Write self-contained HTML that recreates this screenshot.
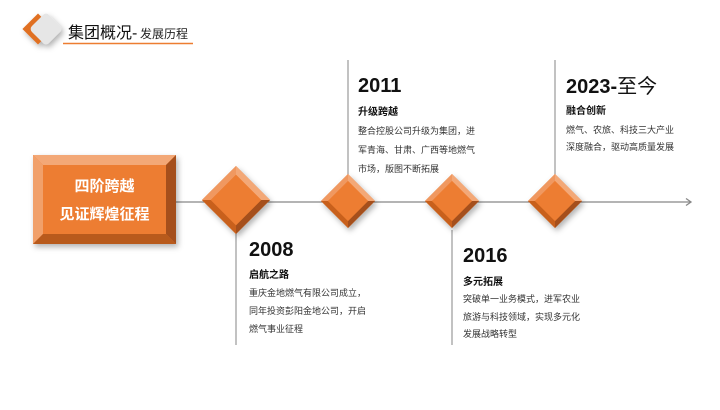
<!DOCTYPE html>
<html><head><meta charset="utf-8"><style>
body{margin:0;width:720px;height:405px;overflow:hidden;background:#fff;font-family:"Liberation Sans","Noto Sans CJK SC",sans-serif}
svg text{font-family:"Liberation Sans","Noto Sans CJK SC",sans-serif}
</style></head><body>
<svg width="720" height="405" viewBox="0 0 720 405">
<defs>
<filter id="sh" x="-50%" y="-50%" width="200%" height="200%"><feDropShadow dx="2" dy="3" stdDeviation="3" flood-color="#000" flood-opacity="0.3"/></filter>
<g id="dia">
<polygon points="0,-27 27,0 0,27 -27,0" fill="#ed7d31"/>
<polygon points="0,-27 27,0 20,0 0,-20" fill="#f3a877"/>
<polygon points="0,-27 0,-20 -20,0 -27,0" fill="#f09860"/>
<polygon points="27,0 0,27 0,20 20,0" fill="#a5501a"/>
<polygon points="-27,0 -20,0 0,20 0,27" fill="#c8611f"/>
<polygon points="0,-20 20,0 0,20 -20,0" fill="#ed7d31"/>
</g>
</defs>
<!-- header -->
<g filter="url(#sh)">
<rect x="27" y="18" width="22" height="22" transform="rotate(45 38 29)" fill="#e07020"/>
<rect x="34" y="17" width="24" height="24" rx="4" transform="rotate(45 46 29)" fill="#e6e6e6"/>
</g>
<text x="68" y="38" font-size="16" fill="#111">集团概况-</text>
<text x="140" y="38" font-size="12" fill="#222">发展历程</text>
<line x1="63" y1="43.5" x2="193" y2="43.5" stroke="#ed7d31" stroke-width="1.5"/>
<!-- timeline -->
<line x1="176" y1="202" x2="691" y2="202" stroke="#888" stroke-width="1.3"/>
<polyline points="686,198.5 691,202 686,205.5" fill="none" stroke="#888" stroke-width="1.3"/>
<line x1="236" y1="230" x2="236" y2="345" stroke="#999" stroke-width="1.2"/>
<line x1="348" y1="60" x2="348" y2="175" stroke="#999" stroke-width="1.2"/>
<line x1="452" y1="230" x2="452" y2="345" stroke="#999" stroke-width="1.2"/>
<line x1="555" y1="60" x2="555" y2="175" stroke="#999" stroke-width="1.2"/>
<!-- box -->
<g filter="url(#sh)">
<rect x="33" y="155" width="143" height="89" fill="#ed7d31"/>
<polygon points="33,155 176,155 166,165 43,165" fill="#f3a877"/>
<polygon points="33,155 43,165 43,234 33,244" fill="#f1a06a"/>
<polygon points="176,155 176,244 166,234 166,165" fill="#a5501a"/>
<polygon points="33,244 43,234 166,234 176,244" fill="#b85a1c"/>
</g>
<text x="104.5" y="191" font-size="15" font-weight="bold" fill="#fff" text-anchor="middle">四阶跨越</text>
<text x="104.5" y="219" font-size="15" font-weight="bold" fill="#fff" text-anchor="middle">见证辉煌征程</text>
<!-- diamonds -->
<g filter="url(#sh)">
<use href="#dia" transform="translate(236,200) scale(1.26)"/>
<use href="#dia" x="348" y="201"/>
<use href="#dia" x="452" y="201"/>
<use href="#dia" x="555" y="201"/>
</g>
<!-- texts -->
<g fill="#111">
<text x="249" y="256" font-size="20" font-weight="bold">2008</text>
<text x="249" y="278" font-size="10" font-weight="bold">启航之路</text>
<text x="249" y="296" font-size="9" fill="#333">重庆金地燃气有限公司成立，</text>
<text x="249" y="314" font-size="9" fill="#333">同年投资彭阳金地公司，开启</text>
<text x="249" y="332" font-size="9" fill="#333">燃气事业征程</text>

<text x="358" y="92" font-size="20" font-weight="bold">2011</text>
<text x="358" y="115" font-size="10" font-weight="bold">升级跨越</text>
<text x="358" y="134" font-size="9" fill="#333">整合控股公司升级为集团，进</text>
<text x="358" y="153" font-size="9" fill="#333">军青海、甘肃、广西等地燃气</text>
<text x="358" y="172" font-size="9" fill="#333">市场，版图不断拓展</text>

<text x="463" y="262" font-size="20" font-weight="bold">2016</text>
<text x="463" y="285" font-size="10" font-weight="bold">多元拓展</text>
<text x="463" y="302" font-size="9" fill="#333">突破单一业务模式，进军农业</text>
<text x="463" y="320" font-size="9" fill="#333">旅游与科技领域，实现多元化</text>
<text x="463" y="337" font-size="9" fill="#333">发展战略转型</text>

<text x="566" y="93" font-size="20" font-weight="bold">2023-<tspan font-weight="normal">至今</tspan></text>
<text x="566" y="114" font-size="10" font-weight="bold">融合创新</text>
<text x="566" y="133" font-size="9" fill="#333">燃气、农旅、科技三大产业</text>
<text x="566" y="150" font-size="9" fill="#333">深度融合，驱动高质量发展</text>
</g>
</svg>
</body></html>
